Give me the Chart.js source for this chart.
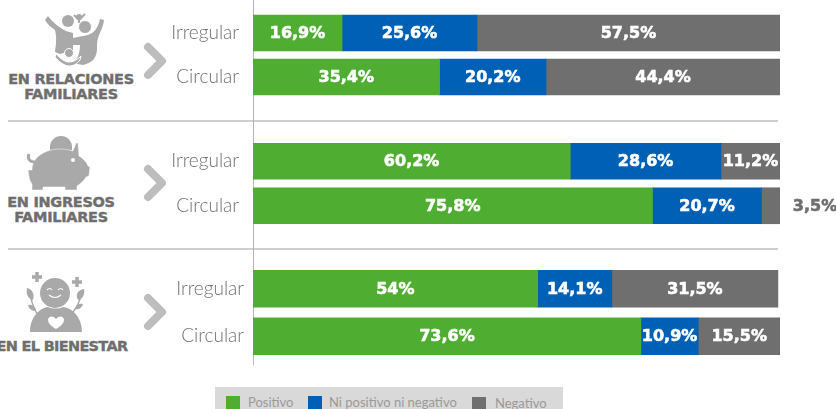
<!DOCTYPE html>
<html>
<head>
<meta charset="utf-8">
<script src="https://cdn.jsdelivr.net/npm/chart.js@4/dist/chart.umd.min.js"></script>
<style>
  html, body { margin: 0; padding: 0; background: #fff; overflow: hidden; }
  #page { position: relative; width: 836px; height: 409px; overflow: hidden; font-family: "DejaVu Sans", sans-serif; }
  #page canvas { position: absolute; left: 0; }
  #icons { position: absolute; left: 0; top: 0; }
  .rule { position: absolute; background: #cfcfcf; }
  .title { position: absolute; font-weight: bold; font-size: 14.5px; line-height: 15px; color: #6e6e6e; text-align: center; white-space: nowrap; letter-spacing: -0.3px; -webkit-text-stroke: 0.4px #6e6e6e; }
  #legend { position: absolute; left: 215px; top: 387px; width: 348px; height: 22px; background: #d9d9d9; overflow: hidden; }
  #legend i { position: absolute; width: 14px; height: 14px; }
  #legend span { position: absolute; font: 13px Lato, sans-serif; color: #9a9a9a; white-space: nowrap; }
</style>
</head>
<body>
<div id="page">
  <div class="rule" style="left:8px;top:120px;width:770px;height:2px"></div>
  <div class="rule" style="left:8px;top:248px;width:770px;height:2px"></div>
  <div class="rule" style="left:253px;top:0;width:1px;height:365px;background:#b5b5b5"></div>

  <svg id="icons" width="250" height="365" fill="#a9a9a9">
    <!-- family -->
    <circle cx="68" cy="21" r="6"/>
    <circle cx="85" cy="27" r="6.500" stroke="#fff" stroke-width="1"/>
    <circle cx="79" cy="17" r="3"/>
    <path d="M74 15l5 5 6-6M79 20v3" fill="none" stroke="#a9a9a9" stroke-width="2"/>
    <path d="M45 20l3-4c4 6 12 12 18 15l7 2v17l-13 4-5-2c1-8 2-14 0-22-4-3-8-6-10-10z"/>
    <path d="M104 20l-4-1c-2 9-6 14-12 16l-15 3v7h7c0 7-2 15-8 18l11 2c9-2 15-7 14-20 0-10 6-15 7-25z"/>
    <path d="M56 54c5 5 9 8 13 8s8-2 12-6l-1 4c-3 4-7 6-11 6s-10-4-14-9z" stroke="#fff" stroke-width="1"/>
    <circle cx="69" cy="53" r="4.500" stroke="#fff" stroke-width="1"/>
    <!-- piggy bank -->
    <path d="M50 147a11 11 0 0 1 22 0v3h-22z"/>
    <path d="M32 170c0-12 12-21 28-21 6 0 10 1 13 2l3-8h2l1 13c5 3 8 7 9 10l2 1-1 9-3 1c-2 4-6 7-9 9v4h-12v-3h-22v3h-11v-6c-3-4-3-8-4-14z" stroke="#fff" stroke-width="0.500"/>
    <path d="M35 162c-5 0-8-3-6-8" fill="none" stroke="#a9a9a9" stroke-width="3"/>
    <circle cx="73" cy="160" r="2" fill="#fff"/>
    <!-- wellbeing -->
    <circle cx="55" cy="293" r="15"/>
    <path d="M32 277h10M37 272v10M72 282h10M77 277v10" stroke="#a9a9a9" stroke-width="3.500"/>
    <path d="M30 332c0-14 9-24 18-25 4 2 11 2 15 0 10 1 19 11 19 25z"/>
    <path d="M56 329c-5-3-8-6-8-9 0-4 5-5 8-1 3-4 8-3 8 1 0 3-3 6-8 9z" fill="#fff"/>
    <path d="M47 290q3-3 5 0M58 290q3-3 5 0M49 295q6 5 12 0" fill="none" stroke="#fff" stroke-width="1.200"/>
    <path d="M37 314c-3-6-6-12-7-20M73 312c4-5 7-10 8-18" fill="none" stroke="#a9a9a9" stroke-width="1.500"/>
    <path d="M33 300c-6-2-7-7-6-12 5 1 8 6 6 12zM78 300c-3-6 0-10 6-11 1 5-1 10-6 11zM36 311c-4 0-7-2-8-6 4-1 8 2 8 6zM75 309c4 1 7-1 8-5-4-1-7 1-8 5z"/>
    <!-- chevrons -->
    <g fill="none" stroke="#bdbdbd" stroke-width="8" stroke-linecap="round" stroke-linejoin="round">
      <path d="M148 47l14 14-14 14"/>
      <path d="M148 169l14 14-14 14"/>
      <path d="M148 298l14 14-14 14"/>
    </g>
  </svg>

  <div class="title" style="left:0;width:142px;top:72px">EN RELACIONES<br>FAMILIARES</div>
  <div class="title" style="left:0;width:122px;top:195px">EN INGRESOS<br>FAMILIARES</div>
  <div class="title" style="left:-13px;width:150px;top:339px;letter-spacing:-0.7px">EN EL BIENESTAR</div>

  <canvas id="panel-0" width="836" height="88" style="top:11px"></canvas>
  <canvas id="panel-1" width="836" height="89" style="top:139px"></canvas>
  <canvas id="panel-2" width="836" height="95" style="top:265px"></canvas>

  <div id="legend"></div>
</div>

<script>
const categories = ["Irregular", "Circular"];
const seriesNames = ["Positivo", "Ni positivo ni negativo", "Negativo"];
const seriesColors = ["#4fae32", "#0060b6", "#6f6f6f"];

// each row: Irregular, Circular
const relaciones = [[16.9, 35.4], [25.6, 20.2], [57.5, 44.4]];
const ingresos = [[60.2, 75.8], [28.6, 20.7], [11.2, 3.5]];
const bienestar = [[54, 73.6], [14.1, 10.9], [31.5, 15.5]];

// draws the % text on each bar, too small bars get it outside in gray
const barLabels = {
  id: "barLabels",
  afterDatasetsDraw(chart) {
    const ctx = chart.ctx;
    ctx.save();
    ctx.font = "bold 16px 'DejaVu Sans', sans-serif";
    ctx.textAlign = "center";
    ctx.textBaseline = "middle";
    ctx.lineWidth = 0.6;
    chart.data.datasets.forEach((ds, i) => {
      chart.getDatasetMeta(i).data.forEach((bar, j) => {
        const text = String(ds.data[j]).replace(".", ",") + "%";
        const width = Math.abs(bar.x - bar.base);
        const outside = width < 30;
        const x = outside ? chart.chartArea.right + 35 : bar.x - width / 2;
        ctx.fillStyle = ctx.strokeStyle = outside ? "#6f6f6f" : "#fff";
        ctx.fillText(text, x, bar.y + 1);
        ctx.strokeText(text, x, bar.y + 1);
      });
    });
    ctx.restore();
  },
};

function drawPanel(id, rows, thickness, tickPadding) {
  new Chart(document.getElementById(id), {
    type: "bar",
    data: {
      labels: categories,
      datasets: rows.map((data, i) => ({
        label: seriesNames[i],
        data,
        backgroundColor: seriesColors[i],
        barThickness: thickness,
      })),
    },
    options: {
      indexAxis: "y",
      responsive: false,
      animation: false,
      layout: { padding: { left: 0, right: 56, top: 0, bottom: 0 } },
      plugins: { legend: { display: false }, tooltip: { enabled: false } },
      scales: {
        x: { stacked: true, min: 0, max: 100, display: false },
        y: {
          stacked: true,
          border: { display: false },
          grid: { display: false, drawTicks: false },
          ticks: {
            color: "#707070",
            padding: tickPadding,
            font: { family: "Lato", size: 19, weight: 300 },
          },
          afterFit(scale) {
            // full height for the bands, axis line sits at a fixed x
            scale.width = 253;
            scale.paddingTop = 0;
            scale.paddingBottom = 0;
          },
        },
      },
    },
    plugins: [barLabels],
  });
}

drawPanel("panel-0", relaciones, 36, 14);
drawPanel("panel-1", ingresos, 36, 14);
drawPanel("panel-2", bienestar, 37, 9);

// legend strip
const legendBoxes = [[11, 9], [93, 9], [257, 10]];
const legendTexts = [33, 114, 280];
const legend = document.getElementById("legend");
seriesNames.forEach((name, i) => {
  const box = document.createElement("i");
  box.style.left = legendBoxes[i][0] + "px";
  box.style.top = legendBoxes[i][1] + "px";
  box.style.background = seriesColors[i];
  legend.appendChild(box);
  const text = document.createElement("span");
  text.textContent = name;
  text.style.left = legendTexts[i] + "px";
  text.style.top = (i === 2 ? 8 : 7) + "px";
  legend.appendChild(text);
});
</script>
</body>
</html>
